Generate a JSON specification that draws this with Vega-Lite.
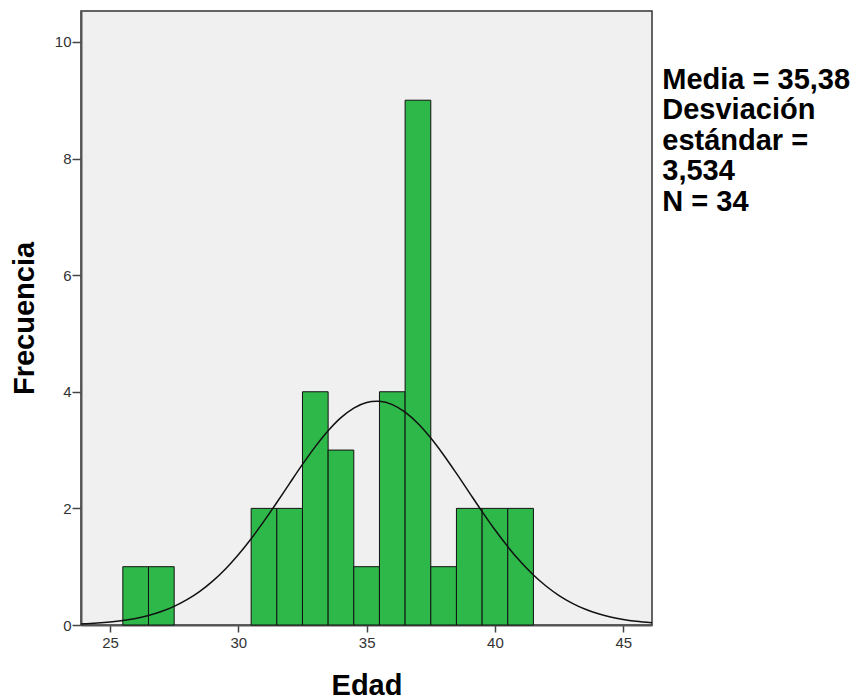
{
  "$schema": "https://vega.github.io/schema/vega-lite/v6.json",
  "autosize": {"type": "none"},
  "width": 571,
  "height": 614,
  "padding": {"left": 81, "top": 11, "right": 209, "bottom": 74},
  "background": "white",
  "config": {
    "view": {"fill": "#f0f0f0", "stroke": "#333", "strokeWidth": 1.5},
    "font": "Liberation Sans",
    "axis": {
      "labelFont": "Liberation Sans",
      "labelFontSize": 15,
      "labelColor": "#333",
      "titleFont": "Liberation Sans",
      "titleFontSize": 29,
      "titleFontWeight": "bold",
      "titleColor": "#000",
      "domainColor": "#555",
      "domainWidth": 2,
      "tickColor": "#444",
      "tickWidth": 1.5,
      "grid": false
    }
  },
  "datasets": {
    "bins": [
      {"start": 25.5, "end": 26.5, "count": 1},
      {"start": 26.5, "end": 27.5, "count": 1},
      {"start": 30.5, "end": 31.5, "count": 2},
      {"start": 31.5, "end": 32.5, "count": 2},
      {"start": 32.5, "end": 33.5, "count": 4},
      {"start": 33.5, "end": 34.5, "count": 3},
      {"start": 34.5, "end": 35.5, "count": 1},
      {"start": 35.5, "end": 36.5, "count": 4},
      {"start": 36.5, "end": 37.5, "count": 9},
      {"start": 37.5, "end": 38.5, "count": 1},
      {"start": 38.5, "end": 39.5, "count": 2},
      {"start": 39.5, "end": 40.5, "count": 2},
      {"start": 40.5, "end": 41.5, "count": 2}
    ],
    "curve": [
      {"x": 23.87, "y": 0.0178},
      {"x": 24, "y": 0.0215},
      {"x": 24.5, "y": 0.0336},
      {"x": 25, "y": 0.0514},
      {"x": 25.5, "y": 0.077},
      {"x": 26, "y": 0.1133},
      {"x": 26.5, "y": 0.1633},
      {"x": 27, "y": 0.2307},
      {"x": 27.5, "y": 0.3196},
      {"x": 28, "y": 0.4337},
      {"x": 28.5, "y": 0.577},
      {"x": 29, "y": 0.7523},
      {"x": 29.5, "y": 0.9616},
      {"x": 30, "y": 1.2047},
      {"x": 30.5, "y": 1.4793},
      {"x": 31, "y": 1.7806},
      {"x": 31.5, "y": 2.1006},
      {"x": 32, "y": 2.4292},
      {"x": 32.5, "y": 2.7537},
      {"x": 33, "y": 3.0593},
      {"x": 33.5, "y": 3.3316},
      {"x": 34, "y": 3.5563},
      {"x": 34.5, "y": 3.7209},
      {"x": 35, "y": 3.8159},
      {"x": 35.38, "y": 3.838},
      {"x": 35.5, "y": 3.8358},
      {"x": 36, "y": 3.7794},
      {"x": 36.5, "y": 3.65},
      {"x": 37, "y": 3.4552},
      {"x": 37.5, "y": 3.206},
      {"x": 38, "y": 2.9158},
      {"x": 38.5, "y": 2.5994},
      {"x": 39, "y": 2.2713},
      {"x": 39.5, "y": 1.9453},
      {"x": 40, "y": 1.633},
      {"x": 40.5, "y": 1.3437},
      {"x": 41, "y": 1.0837},
      {"x": 41.5, "y": 0.8568},
      {"x": 42, "y": 0.6639},
      {"x": 42.5, "y": 0.5042},
      {"x": 43, "y": 0.3755},
      {"x": 43.5, "y": 0.274},
      {"x": 44, "y": 0.1959},
      {"x": 44.5, "y": 0.1374},
      {"x": 45, "y": 0.0944},
      {"x": 45.5, "y": 0.0636},
      {"x": 46.12, "y": 0.0375}
    ],
    "stats": [
      {"x": 46.52, "y": 9.2, "label": "Media = 35,38\nDesviación\nestándar =\n3,534\nN = 34"}
    ]
  },
  "layer": [
    {
      "data": {"name": "bins"},
      "mark": {"type": "rect", "fill": "#2eb84a", "stroke": "#111", "strokeWidth": 1},
      "encoding": {
        "x": {
          "field": "start", "type": "quantitative",
          "scale": {"domain": [23.87, 46.12], "nice": false, "zero": false},
          "axis": {"title": "Edad", "values": [25, 30, 35, 40, 45], "tickSize": 7, "labelPadding": 3, "titlePadding": 21}
        },
        "x2": {"field": "end"},
        "y": {
          "field": "count", "type": "quantitative",
          "scale": {"domain": [0, 10.53], "nice": false},
          "axis": {"title": "Frecuencia", "values": [0, 2, 4, 6, 8, 10], "format": "d", "tickSize": 9, "labelPadding": 1, "titlePadding": 15}
        },
        "y2": {"datum": 0}
      }
    },
    {
      "data": {"name": "curve"},
      "mark": {"type": "line", "color": "#111", "strokeWidth": 1.5, "interpolate": "monotone", "clip": true},
      "encoding": {
        "x": {"field": "x", "type": "quantitative"},
        "y": {"field": "y", "type": "quantitative"}
      }
    },
    {
      "data": {"name": "stats"},
      "mark": {"type": "text", "align": "left", "baseline": "alphabetic", "lineBreak": "\n", "lineHeight": 30.5, "fontSize": 29, "fontWeight": "bold", "font": "Liberation Sans", "color": "#000", "clip": false},
      "encoding": {
        "x": {"field": "x", "type": "quantitative"},
        "y": {"field": "y", "type": "quantitative"},
        "text": {"field": "label"}
      }
    }
  ]
}
